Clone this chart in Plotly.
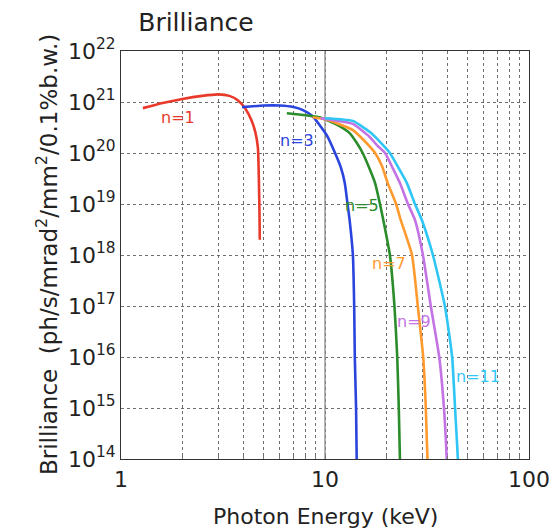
import plotly.graph_objects as go

# Photon energy (keV) and log10(brilliance)
e_n1 = [1.28, 1.6, 2.0, 2.5, 3.0, 3.4, 3.75, 4.05, 4.35, 4.56, 4.69, 4.74, 4.77, 4.79]
b_n1 = [20.88, 20.98, 21.06, 21.12, 21.15, 21.12, 21.03, 20.88, 20.65, 20.4, 20.1, 19.5, 18.9, 18.3]

e_n3 = [3.92, 5.0, 6.0, 7.0, 7.8, 8.7, 9.4, 10.2, 11.2, 12.0, 12.5, 12.9, 13.2, 13.7, 13.9, 14.0, 14.2, 14.3]
b_n3 = [20.9, 20.93, 20.93, 20.9, 20.84, 20.72, 20.55, 20.35, 20.0, 19.7, 19.41, 19.0, 18.69, 18.0, 17.0, 16.0, 15.0, 14.0]

e_n5 = [6.5, 8.0, 9.4, 10.0, 11.5, 13.2, 14.3, 15.3, 16.5, 17.6, 18.6, 19.5, 20.8, 21.9, 22.6, 23.0, 23.3]
b_n5 = [20.78, 20.74, 20.7, 20.66, 20.55, 20.39, 20.2, 20.0, 19.7, 19.41, 19.0, 18.6, 18.0, 17.0, 16.0, 15.0, 14.0]

e_n7 = [8.7, 10.0, 11.5, 13.7, 15.5, 17.6, 19.0, 20.3, 22.3, 23.5, 26.7, 28.5, 30.3, 31.2, 31.6, 31.8]
b_n7 = [20.7, 20.66, 20.58, 20.45, 20.25, 20.0, 19.75, 19.41, 19.0, 18.69, 18.0, 17.0, 16.0, 15.0, 14.3, 14.0]

e_n9 = [9.5, 11.5, 13.7, 16.6, 18.0, 19.7, 21.5, 23.3, 25.5, 27.6, 30.2, 33.0, 36.3, 38.3, 39.2, 39.5]
b_n9 = [20.68, 20.63, 20.57, 20.31, 20.15, 20.0, 19.7, 19.41, 19.0, 18.69, 18.0, 17.0, 16.0, 15.0, 14.3, 14.0]

e_n11 = [10.0, 12.0, 13.7, 16.6, 19.2, 20.8, 23.0, 25.2, 27.6, 29.8, 33.8, 38.7, 42.0, 43.4, 44.4, 44.8]
b_n11 = [20.68, 20.66, 20.63, 20.41, 20.16, 20.0, 19.7, 19.41, 19.0, 18.69, 18.0, 17.0, 16.0, 15.0, 14.3, 14.0]

series_names = ["n=1", "n=3", "n=5", "n=7", "n=9", "n=11"]
series_colors = ["#e8392b", "#2a45dd", "#2a8c2a", "#ff9a2e", "#c373e3", "#2fc6f5"]
# label positions (log10 E, log10 B)
label_x = [0.279, 0.863, 1.181, 1.314, 1.436, 1.75]
label_y = [20.69, 20.25, 18.98, 17.84, 16.69, 15.61]

x_tickvals = [1, 2, 3, 4, 5, 6, 7, 8, 9, 10, 20, 30, 40, 50, 60, 70, 80, 90, 100]
x_ticktext = ["1", "", "", "", "", "", "", "", "", "10", "", "", "", "", "", "", "", "", "100"]
y_exponents = [14, 15, 16, 17, 18, 19, 20, 21, 22]

FONT = "DejaVu Sans, Liberation Sans, Arial, sans-serif"

fig = go.Figure()

# emphasised vertical line at 10 keV
fig.add_trace(go.Scatter(x=[10, 10], y=[10.0 ** y_exponents[0], 10.0 ** y_exponents[-1]],
                         mode="lines", line=dict(color="#8c8c8c", width=1.3),
                         hoverinfo="skip", showlegend=False))

all_e = [e_n1, e_n3, e_n5, e_n7, e_n9, e_n11]
all_b = [b_n1, b_n3, b_n5, b_n7, b_n9, b_n11]
for e, b, name, col in zip(all_e, all_b, series_names, series_colors):
    fig.add_trace(go.Scatter(x=e, y=[10.0 ** v for v in b], mode="lines", name=name,
                             line=dict(color=col, width=2.6, shape="spline", smoothing=0.5),
                             showlegend=False))

for name, col, lx, ly in zip(series_names, series_colors, label_x, label_y):
    fig.add_annotation(x=lx, y=ly, text=name, showarrow=False,
                       font=dict(family=FONT, size=16, color=col))

fig.add_annotation(xref="paper", yref="paper", x=-0.223, y=0.5, textangle=-90,
                   text="Brilliance  (ph/s/mrad<sup>2</sup>/mm<sup>2</sup>/0.1%b.w.)",
                   showarrow=False, font=dict(family=FONT, size=23, color="#222222"))
fig.add_annotation(xref="paper", yref="paper", x=0.5, y=-0.142, yanchor="middle",
                   text="Photon Energy (keV)", showarrow=False,
                   font=dict(family=FONT, size=22, color="#222222"))

fig.update_layout(
    width=551, height=532,
    margin=dict(l=121, r=22, t=51, b=73, autoexpand=False),
    paper_bgcolor="white", plot_bgcolor="white",
    title=dict(text="Brilliance", x=196 / 551, xanchor="center", y=1 - 22 / 532, yanchor="middle",
               font=dict(family=FONT, size=25, color="#222222")),
    xaxis=dict(type="log", range=[0, 2], tickmode="array", tickvals=x_tickvals, ticktext=x_ticktext,
               showgrid=True, gridcolor="#6e6e6e", griddash="dot", gridwidth=1,
               showline=True, linecolor="#333333", linewidth=1.2, mirror=True,
               ticks="inside", ticklen=3, tickcolor="#777777", automargin=False,
               tickfont=dict(family=FONT, size=22, color="#222222"), zeroline=False),
    yaxis=dict(type="log", range=[14, 22], tickmode="array",
               tickvals=[10.0 ** p for p in y_exponents],
               ticktext=["10<sup>%d</sup>" % p for p in y_exponents],
               showgrid=True, gridcolor="#6e6e6e", griddash="dot", gridwidth=1,
               showline=True, linecolor="#333333", linewidth=1.2, mirror=True,
               ticks="inside", ticklen=3, tickcolor="#777777", automargin=False,
               tickfont=dict(family=FONT, size=22, color="#222222"), zeroline=False),
)

fig.write_html("out.html")
